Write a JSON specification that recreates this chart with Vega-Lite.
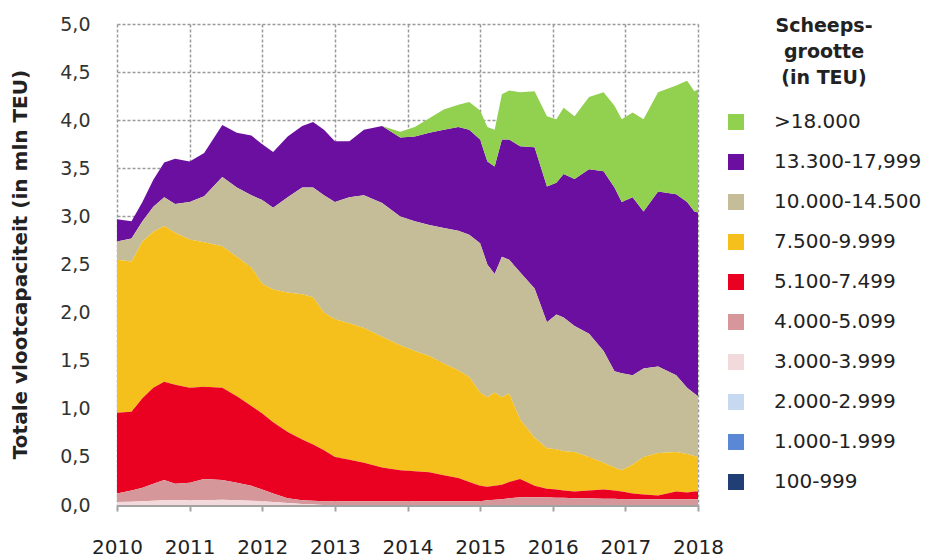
{
  "$schema": "https://vega.github.io/schema/vega-lite/v6.json",
  "width": 581,
  "height": 481,
  "autosize": {"type": "none"},
  "padding": {"left": 117, "top": 24, "right": 241, "bottom": 54},
  "background": "white",
  "config": {"view": {"stroke": null}, "font": "DejaVu Sans"},
  "data": {"values": [
    {"jaar":2010.0,"klasse":"13.300-17,999","vanaf":13300,"cap":0.23},{"jaar":2010.0,"klasse":"10.000-14.500","vanaf":10000,"cap":0.19},{"jaar":2010.0,"klasse":"7.500-9.999","vanaf":7500,"cap":1.59},{"jaar":2010.0,"klasse":"5.100-7.499","vanaf":5100,"cap":0.84},{"jaar":2010.0,"klasse":"4.000-5.099","vanaf":4000,"cap":0.09},{"jaar":2010.0,"klasse":"3.000-3.999","vanaf":3000,"cap":0.03},
    {"jaar":2010.2,"klasse":"13.300-17,999","vanaf":13300,"cap":0.18},{"jaar":2010.2,"klasse":"10.000-14.500","vanaf":10000,"cap":0.24},{"jaar":2010.2,"klasse":"7.500-9.999","vanaf":7500,"cap":1.56},{"jaar":2010.2,"klasse":"5.100-7.499","vanaf":5100,"cap":0.82},{"jaar":2010.2,"klasse":"4.000-5.099","vanaf":4000,"cap":0.115},{"jaar":2010.2,"klasse":"3.000-3.999","vanaf":3000,"cap":0.035},
    {"jaar":2010.35,"klasse":"13.300-17,999","vanaf":13300,"cap":0.20},{"jaar":2010.35,"klasse":"10.000-14.500","vanaf":10000,"cap":0.21},{"jaar":2010.35,"klasse":"7.500-9.999","vanaf":7500,"cap":1.63},{"jaar":2010.35,"klasse":"5.100-7.499","vanaf":5100,"cap":0.93},{"jaar":2010.35,"klasse":"4.000-5.099","vanaf":4000,"cap":0.14},{"jaar":2010.35,"klasse":"3.000-3.999","vanaf":3000,"cap":0.04},
    {"jaar":2010.5,"klasse":"13.300-17,999","vanaf":13300,"cap":0.28},{"jaar":2010.5,"klasse":"10.000-14.500","vanaf":10000,"cap":0.26},{"jaar":2010.5,"klasse":"7.500-9.999","vanaf":7500,"cap":1.62},{"jaar":2010.5,"klasse":"5.100-7.499","vanaf":5100,"cap":1.00},{"jaar":2010.5,"klasse":"4.000-5.099","vanaf":4000,"cap":0.175},{"jaar":2010.5,"klasse":"3.000-3.999","vanaf":3000,"cap":0.045},
    {"jaar":2010.65,"klasse":"13.300-17,999","vanaf":13300,"cap":0.36},{"jaar":2010.65,"klasse":"10.000-14.500","vanaf":10000,"cap":0.30},{"jaar":2010.65,"klasse":"7.500-9.999","vanaf":7500,"cap":1.62},{"jaar":2010.65,"klasse":"5.100-7.499","vanaf":5100,"cap":1.02},{"jaar":2010.65,"klasse":"4.000-5.099","vanaf":4000,"cap":0.21},{"jaar":2010.65,"klasse":"3.000-3.999","vanaf":3000,"cap":0.05},
    {"jaar":2010.8,"klasse":"13.300-17,999","vanaf":13300,"cap":0.47},{"jaar":2010.8,"klasse":"10.000-14.500","vanaf":10000,"cap":0.30},{"jaar":2010.8,"klasse":"7.500-9.999","vanaf":7500,"cap":1.58},{"jaar":2010.8,"klasse":"5.100-7.499","vanaf":5100,"cap":1.03},{"jaar":2010.8,"klasse":"4.000-5.099","vanaf":4000,"cap":0.17},{"jaar":2010.8,"klasse":"3.000-3.999","vanaf":3000,"cap":0.05},
    {"jaar":2011.0,"klasse":"13.300-17,999","vanaf":13300,"cap":0.42},{"jaar":2011.0,"klasse":"10.000-14.500","vanaf":10000,"cap":0.39},{"jaar":2011.0,"klasse":"7.500-9.999","vanaf":7500,"cap":1.54},{"jaar":2011.0,"klasse":"5.100-7.499","vanaf":5100,"cap":0.99},{"jaar":2011.0,"klasse":"4.000-5.099","vanaf":4000,"cap":0.18},{"jaar":2011.0,"klasse":"3.000-3.999","vanaf":3000,"cap":0.05},
    {"jaar":2011.2,"klasse":"13.300-17,999","vanaf":13300,"cap":0.45},{"jaar":2011.2,"klasse":"10.000-14.500","vanaf":10000,"cap":0.48},{"jaar":2011.2,"klasse":"7.500-9.999","vanaf":7500,"cap":1.50},{"jaar":2011.2,"klasse":"5.100-7.499","vanaf":5100,"cap":0.96},{"jaar":2011.2,"klasse":"4.000-5.099","vanaf":4000,"cap":0.22},{"jaar":2011.2,"klasse":"3.000-3.999","vanaf":3000,"cap":0.05},
    {"jaar":2011.45,"klasse":"13.300-17,999","vanaf":13300,"cap":0.54},{"jaar":2011.45,"klasse":"10.000-14.500","vanaf":10000,"cap":0.72},{"jaar":2011.45,"klasse":"7.500-9.999","vanaf":7500,"cap":1.47},{"jaar":2011.45,"klasse":"5.100-7.499","vanaf":5100,"cap":0.96},{"jaar":2011.45,"klasse":"4.000-5.099","vanaf":4000,"cap":0.205},{"jaar":2011.45,"klasse":"3.000-3.999","vanaf":3000,"cap":0.055},
    {"jaar":2011.65,"klasse":"13.300-17,999","vanaf":13300,"cap":0.57},{"jaar":2011.65,"klasse":"10.000-14.500","vanaf":10000,"cap":0.72},{"jaar":2011.65,"klasse":"7.500-9.999","vanaf":7500,"cap":1.45},{"jaar":2011.65,"klasse":"5.100-7.499","vanaf":5100,"cap":0.90},{"jaar":2011.65,"klasse":"4.000-5.099","vanaf":4000,"cap":0.18},{"jaar":2011.65,"klasse":"3.000-3.999","vanaf":3000,"cap":0.05},
    {"jaar":2011.85,"klasse":"13.300-17,999","vanaf":13300,"cap":0.62},{"jaar":2011.85,"klasse":"10.000-14.500","vanaf":10000,"cap":0.75},{"jaar":2011.85,"klasse":"7.500-9.999","vanaf":7500,"cap":1.44},{"jaar":2011.85,"klasse":"5.100-7.499","vanaf":5100,"cap":0.83},{"jaar":2011.85,"klasse":"4.000-5.099","vanaf":4000,"cap":0.155},{"jaar":2011.85,"klasse":"3.000-3.999","vanaf":3000,"cap":0.045},
    {"jaar":2012.0,"klasse":"13.300-17,999","vanaf":13300,"cap":0.58},{"jaar":2012.0,"klasse":"10.000-14.500","vanaf":10000,"cap":0.87},{"jaar":2012.0,"klasse":"7.500-9.999","vanaf":7500,"cap":1.35},{"jaar":2012.0,"klasse":"5.100-7.499","vanaf":5100,"cap":0.79},{"jaar":2012.0,"klasse":"4.000-5.099","vanaf":4000,"cap":0.12},{"jaar":2012.0,"klasse":"3.000-3.999","vanaf":3000,"cap":0.04},
    {"jaar":2012.15,"klasse":"13.300-17,999","vanaf":13300,"cap":0.58},{"jaar":2012.15,"klasse":"10.000-14.500","vanaf":10000,"cap":0.85},{"jaar":2012.15,"klasse":"7.500-9.999","vanaf":7500,"cap":1.38},{"jaar":2012.15,"klasse":"5.100-7.499","vanaf":5100,"cap":0.74},{"jaar":2012.15,"klasse":"4.000-5.099","vanaf":4000,"cap":0.09},{"jaar":2012.15,"klasse":"3.000-3.999","vanaf":3000,"cap":0.03},
    {"jaar":2012.35,"klasse":"13.300-17,999","vanaf":13300,"cap":0.63},{"jaar":2012.35,"klasse":"10.000-14.500","vanaf":10000,"cap":0.99},{"jaar":2012.35,"klasse":"7.500-9.999","vanaf":7500,"cap":1.45},{"jaar":2012.35,"klasse":"5.100-7.499","vanaf":5100,"cap":0.69},{"jaar":2012.35,"klasse":"4.000-5.099","vanaf":4000,"cap":0.05},{"jaar":2012.35,"klasse":"3.000-3.999","vanaf":3000,"cap":0.02},
    {"jaar":2012.55,"klasse":"13.300-17,999","vanaf":13300,"cap":0.64},{"jaar":2012.55,"klasse":"10.000-14.500","vanaf":10000,"cap":1.11},{"jaar":2012.55,"klasse":"7.500-9.999","vanaf":7500,"cap":1.51},{"jaar":2012.55,"klasse":"5.100-7.499","vanaf":5100,"cap":0.63},{"jaar":2012.55,"klasse":"4.000-5.099","vanaf":4000,"cap":0.04},{"jaar":2012.55,"klasse":"3.000-3.999","vanaf":3000,"cap":0.01},
    {"jaar":2012.7,"klasse":"13.300-17,999","vanaf":13300,"cap":0.68},{"jaar":2012.7,"klasse":"10.000-14.500","vanaf":10000,"cap":1.14},{"jaar":2012.7,"klasse":"7.500-9.999","vanaf":7500,"cap":1.53},{"jaar":2012.7,"klasse":"5.100-7.499","vanaf":5100,"cap":0.585},{"jaar":2012.7,"klasse":"4.000-5.099","vanaf":4000,"cap":0.035},{"jaar":2012.7,"klasse":"3.000-3.999","vanaf":3000,"cap":0.01},
    {"jaar":2012.85,"klasse":"13.300-17,999","vanaf":13300,"cap":0.68},{"jaar":2012.85,"klasse":"10.000-14.500","vanaf":10000,"cap":1.22},{"jaar":2012.85,"klasse":"7.500-9.999","vanaf":7500,"cap":1.43},{"jaar":2012.85,"klasse":"5.100-7.499","vanaf":5100,"cap":0.53},{"jaar":2012.85,"klasse":"4.000-5.099","vanaf":4000,"cap":0.04},
    {"jaar":2013.0,"klasse":"13.300-17,999","vanaf":13300,"cap":0.63},{"jaar":2013.0,"klasse":"10.000-14.500","vanaf":10000,"cap":1.22},{"jaar":2013.0,"klasse":"7.500-9.999","vanaf":7500,"cap":1.43},{"jaar":2013.0,"klasse":"5.100-7.499","vanaf":5100,"cap":0.46},{"jaar":2013.0,"klasse":"4.000-5.099","vanaf":4000,"cap":0.04},
    {"jaar":2013.2,"klasse":"13.300-17,999","vanaf":13300,"cap":0.58},{"jaar":2013.2,"klasse":"10.000-14.500","vanaf":10000,"cap":1.31},{"jaar":2013.2,"klasse":"7.500-9.999","vanaf":7500,"cap":1.42},{"jaar":2013.2,"klasse":"5.100-7.499","vanaf":5100,"cap":0.43},{"jaar":2013.2,"klasse":"4.000-5.099","vanaf":4000,"cap":0.04},
    {"jaar":2013.4,"klasse":"13.300-17,999","vanaf":13300,"cap":0.68},{"jaar":2013.4,"klasse":"10.000-14.500","vanaf":10000,"cap":1.38},{"jaar":2013.4,"klasse":"7.500-9.999","vanaf":7500,"cap":1.40},{"jaar":2013.4,"klasse":"5.100-7.499","vanaf":5100,"cap":0.40},{"jaar":2013.4,"klasse":"4.000-5.099","vanaf":4000,"cap":0.04},
    {"jaar":2013.65,"klasse":">18.000","vanaf":18000,"cap":0},{"jaar":2013.65,"klasse":"13.300-17,999","vanaf":13300,"cap":0.80},{"jaar":2013.65,"klasse":"10.000-14.500","vanaf":10000,"cap":1.39},{"jaar":2013.65,"klasse":"7.500-9.999","vanaf":7500,"cap":1.36},{"jaar":2013.65,"klasse":"5.100-7.499","vanaf":5100,"cap":0.35},{"jaar":2013.65,"klasse":"4.000-5.099","vanaf":4000,"cap":0.04},
    {"jaar":2013.9,"klasse":">18.000","vanaf":18000,"cap":0.06},{"jaar":2013.9,"klasse":"13.300-17,999","vanaf":13300,"cap":0.82},{"jaar":2013.9,"klasse":"10.000-14.500","vanaf":10000,"cap":1.34},{"jaar":2013.9,"klasse":"7.500-9.999","vanaf":7500,"cap":1.30},{"jaar":2013.9,"klasse":"5.100-7.499","vanaf":5100,"cap":0.32},{"jaar":2013.9,"klasse":"4.000-5.099","vanaf":4000,"cap":0.04},
    {"jaar":2014.1,"klasse":">18.000","vanaf":18000,"cap":0.10},{"jaar":2014.1,"klasse":"13.300-17,999","vanaf":13300,"cap":0.88},{"jaar":2014.1,"klasse":"10.000-14.500","vanaf":10000,"cap":1.35},{"jaar":2014.1,"klasse":"7.500-9.999","vanaf":7500,"cap":1.25},{"jaar":2014.1,"klasse":"5.100-7.499","vanaf":5100,"cap":0.31},{"jaar":2014.1,"klasse":"4.000-5.099","vanaf":4000,"cap":0.04},
    {"jaar":2014.3,"klasse":">18.000","vanaf":18000,"cap":0.15},{"jaar":2014.3,"klasse":"13.300-17,999","vanaf":13300,"cap":0.96},{"jaar":2014.3,"klasse":"10.000-14.500","vanaf":10000,"cap":1.36},{"jaar":2014.3,"klasse":"7.500-9.999","vanaf":7500,"cap":1.21},{"jaar":2014.3,"klasse":"5.100-7.499","vanaf":5100,"cap":0.30},{"jaar":2014.3,"klasse":"4.000-5.099","vanaf":4000,"cap":0.04},
    {"jaar":2014.5,"klasse":">18.000","vanaf":18000,"cap":0.21},{"jaar":2014.5,"klasse":"13.300-17,999","vanaf":13300,"cap":1.02},{"jaar":2014.5,"klasse":"10.000-14.500","vanaf":10000,"cap":1.41},{"jaar":2014.5,"klasse":"7.500-9.999","vanaf":7500,"cap":1.16},{"jaar":2014.5,"klasse":"5.100-7.499","vanaf":5100,"cap":0.27},{"jaar":2014.5,"klasse":"4.000-5.099","vanaf":4000,"cap":0.04},
    {"jaar":2014.7,"klasse":">18.000","vanaf":18000,"cap":0.23},{"jaar":2014.7,"klasse":"13.300-17,999","vanaf":13300,"cap":1.08},{"jaar":2014.7,"klasse":"10.000-14.500","vanaf":10000,"cap":1.45},{"jaar":2014.7,"klasse":"7.500-9.999","vanaf":7500,"cap":1.12},{"jaar":2014.7,"klasse":"5.100-7.499","vanaf":5100,"cap":0.24},{"jaar":2014.7,"klasse":"4.000-5.099","vanaf":4000,"cap":0.04},
    {"jaar":2014.85,"klasse":">18.000","vanaf":18000,"cap":0.29},{"jaar":2014.85,"klasse":"13.300-17,999","vanaf":13300,"cap":1.09},{"jaar":2014.85,"klasse":"10.000-14.500","vanaf":10000,"cap":1.48},{"jaar":2014.85,"klasse":"7.500-9.999","vanaf":7500,"cap":1.09},{"jaar":2014.85,"klasse":"5.100-7.499","vanaf":5100,"cap":0.20},{"jaar":2014.85,"klasse":"4.000-5.099","vanaf":4000,"cap":0.04},
    {"jaar":2015.0,"klasse":">18.000","vanaf":18000,"cap":0.30},{"jaar":2015.0,"klasse":"13.300-17,999","vanaf":13300,"cap":1.08},{"jaar":2015.0,"klasse":"10.000-14.500","vanaf":10000,"cap":1.55},{"jaar":2015.0,"klasse":"7.500-9.999","vanaf":7500,"cap":0.97},{"jaar":2015.0,"klasse":"5.100-7.499","vanaf":5100,"cap":0.16},{"jaar":2015.0,"klasse":"4.000-5.099","vanaf":4000,"cap":0.04},
    {"jaar":2015.1,"klasse":">18.000","vanaf":18000,"cap":0.36},{"jaar":2015.1,"klasse":"13.300-17,999","vanaf":13300,"cap":1.07},{"jaar":2015.1,"klasse":"10.000-14.500","vanaf":10000,"cap":1.38},{"jaar":2015.1,"klasse":"7.500-9.999","vanaf":7500,"cap":0.93},{"jaar":2015.1,"klasse":"5.100-7.499","vanaf":5100,"cap":0.14},{"jaar":2015.1,"klasse":"4.000-5.099","vanaf":4000,"cap":0.05},
    {"jaar":2015.2,"klasse":">18.000","vanaf":18000,"cap":0.38},{"jaar":2015.2,"klasse":"13.300-17,999","vanaf":13300,"cap":1.12},{"jaar":2015.2,"klasse":"10.000-14.500","vanaf":10000,"cap":1.23},{"jaar":2015.2,"klasse":"7.500-9.999","vanaf":7500,"cap":0.97},{"jaar":2015.2,"klasse":"5.100-7.499","vanaf":5100,"cap":0.145},{"jaar":2015.2,"klasse":"4.000-5.099","vanaf":4000,"cap":0.055},
    {"jaar":2015.3,"klasse":">18.000","vanaf":18000,"cap":0.47},{"jaar":2015.3,"klasse":"13.300-17,999","vanaf":13300,"cap":1.22},{"jaar":2015.3,"klasse":"10.000-14.500","vanaf":10000,"cap":1.46},{"jaar":2015.3,"klasse":"7.500-9.999","vanaf":7500,"cap":0.91},{"jaar":2015.3,"klasse":"5.100-7.499","vanaf":5100,"cap":0.15},{"jaar":2015.3,"klasse":"4.000-5.099","vanaf":4000,"cap":0.06},
    {"jaar":2015.4,"klasse":">18.000","vanaf":18000,"cap":0.51},{"jaar":2015.4,"klasse":"13.300-17,999","vanaf":13300,"cap":1.25},{"jaar":2015.4,"klasse":"10.000-14.500","vanaf":10000,"cap":1.39},{"jaar":2015.4,"klasse":"7.500-9.999","vanaf":7500,"cap":0.92},{"jaar":2015.4,"klasse":"5.100-7.499","vanaf":5100,"cap":0.17},{"jaar":2015.4,"klasse":"4.000-5.099","vanaf":4000,"cap":0.07},
    {"jaar":2015.55,"klasse":">18.000","vanaf":18000,"cap":0.56},{"jaar":2015.55,"klasse":"13.300-17,999","vanaf":13300,"cap":1.31},{"jaar":2015.55,"klasse":"10.000-14.500","vanaf":10000,"cap":1.53},{"jaar":2015.55,"klasse":"7.500-9.999","vanaf":7500,"cap":0.62},{"jaar":2015.55,"klasse":"5.100-7.499","vanaf":5100,"cap":0.19},{"jaar":2015.55,"klasse":"4.000-5.099","vanaf":4000,"cap":0.08},
    {"jaar":2015.75,"klasse":">18.000","vanaf":18000,"cap":0.58},{"jaar":2015.75,"klasse":"13.300-17,999","vanaf":13300,"cap":1.47},{"jaar":2015.75,"klasse":"10.000-14.500","vanaf":10000,"cap":1.55},{"jaar":2015.75,"klasse":"7.500-9.999","vanaf":7500,"cap":0.50},{"jaar":2015.75,"klasse":"5.100-7.499","vanaf":5100,"cap":0.12},{"jaar":2015.75,"klasse":"4.000-5.099","vanaf":4000,"cap":0.08},
    {"jaar":2015.92,"klasse":">18.000","vanaf":18000,"cap":0.73},{"jaar":2015.92,"klasse":"13.300-17,999","vanaf":13300,"cap":1.41},{"jaar":2015.92,"klasse":"10.000-14.500","vanaf":10000,"cap":1.31},{"jaar":2015.92,"klasse":"7.500-9.999","vanaf":7500,"cap":0.42},{"jaar":2015.92,"klasse":"5.100-7.499","vanaf":5100,"cap":0.09},{"jaar":2015.92,"klasse":"4.000-5.099","vanaf":4000,"cap":0.08},
    {"jaar":2016.05,"klasse":">18.000","vanaf":18000,"cap":0.66},{"jaar":2016.05,"klasse":"13.300-17,999","vanaf":13300,"cap":1.37},{"jaar":2016.05,"klasse":"10.000-14.500","vanaf":10000,"cap":1.40},{"jaar":2016.05,"klasse":"7.500-9.999","vanaf":7500,"cap":0.42},{"jaar":2016.05,"klasse":"5.100-7.499","vanaf":5100,"cap":0.085},{"jaar":2016.05,"klasse":"4.000-5.099","vanaf":4000,"cap":0.075},
    {"jaar":2016.15,"klasse":">18.000","vanaf":18000,"cap":0.69},{"jaar":2016.15,"klasse":"13.300-17,999","vanaf":13300,"cap":1.49},{"jaar":2016.15,"klasse":"10.000-14.500","vanaf":10000,"cap":1.39},{"jaar":2016.15,"klasse":"7.500-9.999","vanaf":7500,"cap":0.41},{"jaar":2016.15,"klasse":"5.100-7.499","vanaf":5100,"cap":0.075},{"jaar":2016.15,"klasse":"4.000-5.099","vanaf":4000,"cap":0.075},
    {"jaar":2016.3,"klasse":">18.000","vanaf":18000,"cap":0.65},{"jaar":2016.3,"klasse":"13.300-17,999","vanaf":13300,"cap":1.53},{"jaar":2016.3,"klasse":"10.000-14.500","vanaf":10000,"cap":1.31},{"jaar":2016.3,"klasse":"7.500-9.999","vanaf":7500,"cap":0.41},{"jaar":2016.3,"klasse":"5.100-7.499","vanaf":5100,"cap":0.07},{"jaar":2016.3,"klasse":"4.000-5.099","vanaf":4000,"cap":0.07},
    {"jaar":2016.5,"klasse":">18.000","vanaf":18000,"cap":0.75},{"jaar":2016.5,"klasse":"13.300-17,999","vanaf":13300,"cap":1.71},{"jaar":2016.5,"klasse":"10.000-14.500","vanaf":10000,"cap":1.28},{"jaar":2016.5,"klasse":"7.500-9.999","vanaf":7500,"cap":0.35},{"jaar":2016.5,"klasse":"5.100-7.499","vanaf":5100,"cap":0.08},{"jaar":2016.5,"klasse":"4.000-5.099","vanaf":4000,"cap":0.07},
    {"jaar":2016.7,"klasse":">18.000","vanaf":18000,"cap":0.82},{"jaar":2016.7,"klasse":"13.300-17,999","vanaf":13300,"cap":1.87},{"jaar":2016.7,"klasse":"10.000-14.500","vanaf":10000,"cap":1.16},{"jaar":2016.7,"klasse":"7.500-9.999","vanaf":7500,"cap":0.28},{"jaar":2016.7,"klasse":"5.100-7.499","vanaf":5100,"cap":0.095},{"jaar":2016.7,"klasse":"4.000-5.099","vanaf":4000,"cap":0.065},
    {"jaar":2016.85,"klasse":">18.000","vanaf":18000,"cap":0.85},{"jaar":2016.85,"klasse":"13.300-17,999","vanaf":13300,"cap":1.91},{"jaar":2016.85,"klasse":"10.000-14.500","vanaf":10000,"cap":1.00},{"jaar":2016.85,"klasse":"7.500-9.999","vanaf":7500,"cap":0.24},{"jaar":2016.85,"klasse":"5.100-7.499","vanaf":5100,"cap":0.085},{"jaar":2016.85,"klasse":"4.000-5.099","vanaf":4000,"cap":0.065},
    {"jaar":2016.95,"klasse":">18.000","vanaf":18000,"cap":0.86},{"jaar":2016.95,"klasse":"13.300-17,999","vanaf":13300,"cap":1.78},{"jaar":2016.95,"klasse":"10.000-14.500","vanaf":10000,"cap":1.01},{"jaar":2016.95,"klasse":"7.500-9.999","vanaf":7500,"cap":0.22},{"jaar":2016.95,"klasse":"5.100-7.499","vanaf":5100,"cap":0.08},{"jaar":2016.95,"klasse":"4.000-5.099","vanaf":4000,"cap":0.06},
    {"jaar":2017.1,"klasse":">18.000","vanaf":18000,"cap":0.88},{"jaar":2017.1,"klasse":"13.300-17,999","vanaf":13300,"cap":1.85},{"jaar":2017.1,"klasse":"10.000-14.500","vanaf":10000,"cap":0.93},{"jaar":2017.1,"klasse":"7.500-9.999","vanaf":7500,"cap":0.30},{"jaar":2017.1,"klasse":"5.100-7.499","vanaf":5100,"cap":0.06},{"jaar":2017.1,"klasse":"4.000-5.099","vanaf":4000,"cap":0.06},
    {"jaar":2017.25,"klasse":">18.000","vanaf":18000,"cap":0.96},{"jaar":2017.25,"klasse":"13.300-17,999","vanaf":13300,"cap":1.63},{"jaar":2017.25,"klasse":"10.000-14.500","vanaf":10000,"cap":0.92},{"jaar":2017.25,"klasse":"7.500-9.999","vanaf":7500,"cap":0.39},{"jaar":2017.25,"klasse":"5.100-7.499","vanaf":5100,"cap":0.05},{"jaar":2017.25,"klasse":"4.000-5.099","vanaf":4000,"cap":0.06},
    {"jaar":2017.45,"klasse":">18.000","vanaf":18000,"cap":1.03},{"jaar":2017.45,"klasse":"13.300-17,999","vanaf":13300,"cap":1.82},{"jaar":2017.45,"klasse":"10.000-14.500","vanaf":10000,"cap":0.90},{"jaar":2017.45,"klasse":"7.500-9.999","vanaf":7500,"cap":0.44},{"jaar":2017.45,"klasse":"5.100-7.499","vanaf":5100,"cap":0.04},{"jaar":2017.45,"klasse":"4.000-5.099","vanaf":4000,"cap":0.06},
    {"jaar":2017.7,"klasse":">18.000","vanaf":18000,"cap":1.13},{"jaar":2017.7,"klasse":"13.300-17,999","vanaf":13300,"cap":1.88},{"jaar":2017.7,"klasse":"10.000-14.500","vanaf":10000,"cap":0.80},{"jaar":2017.7,"klasse":"7.500-9.999","vanaf":7500,"cap":0.41},{"jaar":2017.7,"klasse":"5.100-7.499","vanaf":5100,"cap":0.08},{"jaar":2017.7,"klasse":"4.000-5.099","vanaf":4000,"cap":0.06},
    {"jaar":2017.85,"klasse":">18.000","vanaf":18000,"cap":1.26},{"jaar":2017.85,"klasse":"13.300-17,999","vanaf":13300,"cap":1.93},{"jaar":2017.85,"klasse":"10.000-14.500","vanaf":10000,"cap":0.69},{"jaar":2017.85,"klasse":"7.500-9.999","vanaf":7500,"cap":0.40},{"jaar":2017.85,"klasse":"5.100-7.499","vanaf":5100,"cap":0.07},{"jaar":2017.85,"klasse":"4.000-5.099","vanaf":4000,"cap":0.06},
    {"jaar":2017.95,"klasse":">18.000","vanaf":18000,"cap":1.25},{"jaar":2017.95,"klasse":"13.300-17,999","vanaf":13300,"cap":1.89},{"jaar":2017.95,"klasse":"10.000-14.500","vanaf":10000,"cap":0.65},{"jaar":2017.95,"klasse":"7.500-9.999","vanaf":7500,"cap":0.37},{"jaar":2017.95,"klasse":"5.100-7.499","vanaf":5100,"cap":0.08},{"jaar":2017.95,"klasse":"4.000-5.099","vanaf":4000,"cap":0.06},
    {"jaar":2018.0,"klasse":">18.000","vanaf":18000,"cap":1.28},{"jaar":2018.0,"klasse":"13.300-17,999","vanaf":13300,"cap":1.91},{"jaar":2018.0,"klasse":"10.000-14.500","vanaf":10000,"cap":0.63},{"jaar":2018.0,"klasse":"7.500-9.999","vanaf":7500,"cap":0.36},{"jaar":2018.0,"klasse":"5.100-7.499","vanaf":5100,"cap":0.08},{"jaar":2018.0,"klasse":"4.000-5.099","vanaf":4000,"cap":0.06}
  ]},
  "mark": {"type": "area", "interpolate": "linear"},
  "encoding": {
    "x": {
      "field": "jaar", "type": "quantitative",
      "scale": {"domain": [2010, 2018], "nice": false, "zero": false},
      "axis": {
        "title": null,
        "values": [2010, 2011, 2012, 2013, 2014, 2015, 2016, 2017, 2018],
        "format": "d",
        "labelFontSize": 20, "labelColor": "#222222", "labelPadding": 26, "labelDx": -11, "labelFlush": false,
        "domainColor": "#a3a3a3", "domainWidth": 3,
        "tickColor": "#a3a3a3", "tickWidth": 2, "tickSize": 6,
        "grid": true, "gridColor": "#9a9a9a", "gridDash": [3, 2], "gridWidth": 1.5
      }
    },
    "y": {
      "field": "cap", "type": "quantitative", "stack": "zero",
      "scale": {"domain": [0, 5], "nice": false},
      "axis": {
        "title": "Totale vlootcapaciteit  (in mln TEU)",
        "titleFontSize": 20, "titleFontWeight": "bold", "titleColor": "#222222",
        "titleX": -97, "titleY": 240, "titleAngle": 270, "titleAlign": "center", "titleBaseline": "middle",
        "values": [0, 0.5, 1, 1.5, 2, 2.5, 3, 3.5, 4, 4.5, 5],
        "labelExpr": "replace(format(datum.value, '.1f'), '.', ',')",
        "labelFontSize": 19, "labelColor": "#333333", "labelPadding": 27,
        "ticks": false, "domain": false,
        "grid": true, "gridColor": "#9a9a9a", "gridDash": [3, 2], "gridWidth": 1.5
      }
    },
    "color": {
      "field": "klasse", "type": "nominal",
      "scale": {
        "domain": [">18.000", "13.300-17,999", "10.000-14.500", "7.500-9.999", "5.100-7.499", "4.000-5.099", "3.000-3.999", "2.000-2.999", "1.000-1.999", "100-999"],
        "range": ["#92d050", "#6b0fa0", "#c4bd97", "#f6c01c", "#ea0020", "#d6979b", "#f2d9dc", "#c6d9f1", "#5a88d4", "#223f75"]
      },
      "legend": {
        "orient": "none", "legendX": 609, "legendY": -7,
        "title": ["Scheeps-", "grootte", "(in TEU)"],
        "titleFontSize": 19, "titleFontWeight": "bold", "titleColor": "#222222",
        "titleLineHeight": 26, "titleAnchor": "middle", "titleAlign": "center", "titlePadding": 24,
        "labelFontSize": 20, "labelColor": "#222222", "labelOffset": 28,
        "symbolType": "square", "symbolSize": 256, "symbolStrokeWidth": 0, "symbolOpacity": 1,
        "rowPadding": 20, "padding": 0
      }
    },
    "order": {"field": "vanaf", "type": "quantitative", "sort": "ascending"}
  }
}
